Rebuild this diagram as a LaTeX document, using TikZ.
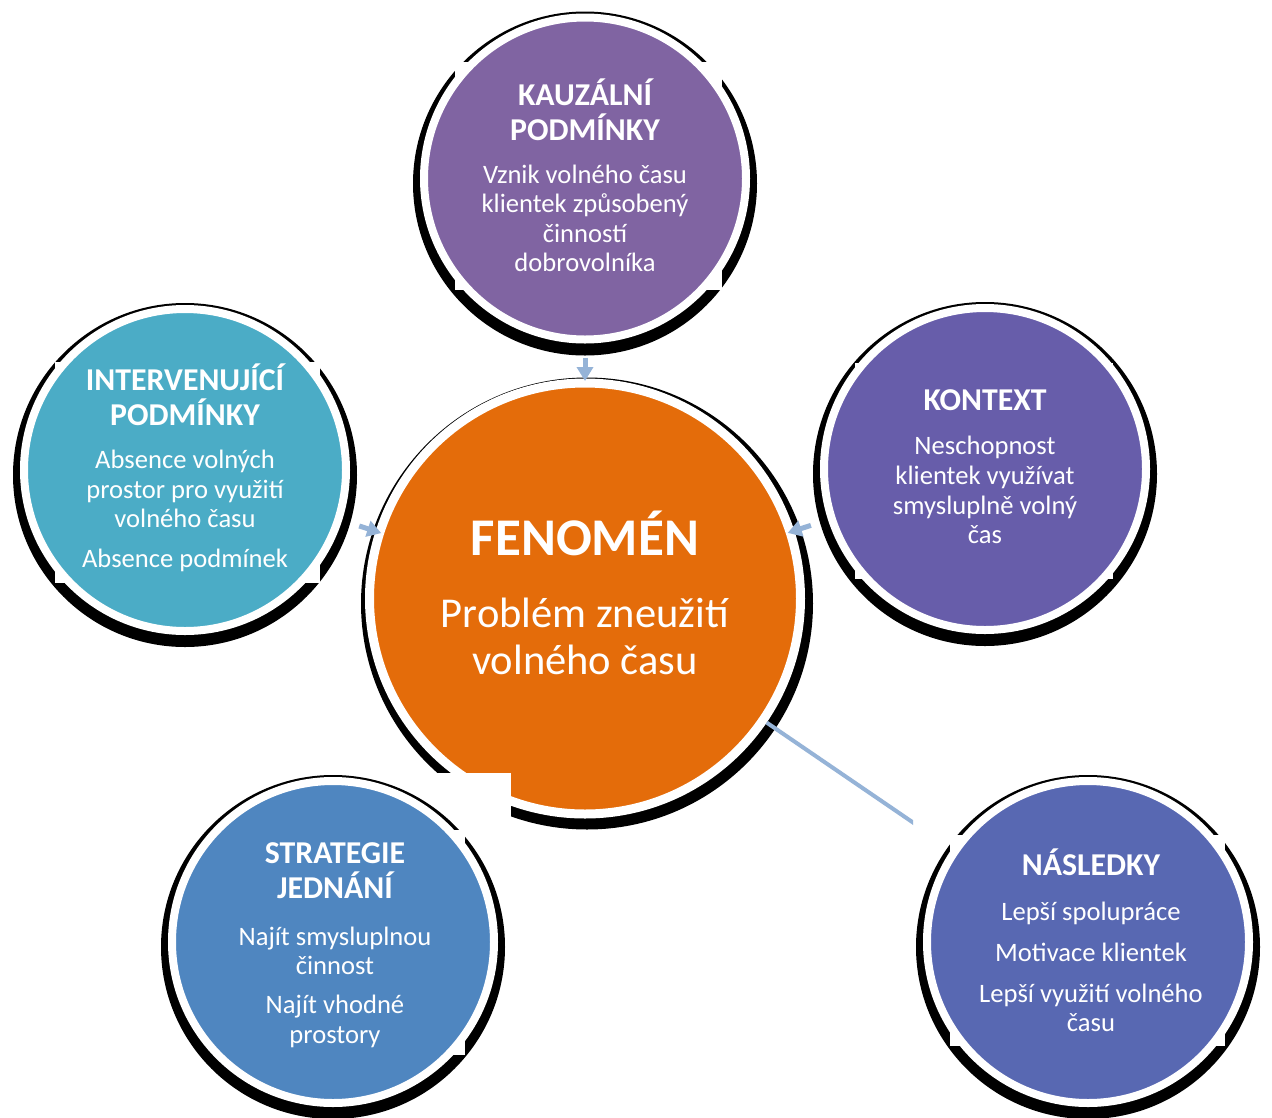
\documentclass[tikz,border=0pt]{standalone}
\usepackage{fontspec}
\setmainfont{Carlito}
\usetikzlibrary{arrows.meta}
\definecolor{cKauz}{HTML}{8064A2}
\definecolor{cKont}{HTML}{675DAA}
\definecolor{cNasl}{HTML}{5868B2}
\definecolor{cStra}{HTML}{4F86C0}
\definecolor{cInte}{HTML}{4BACC6}
\definecolor{cFen}{HTML}{E46C0A}
\definecolor{arrowc}{HTML}{95B3D7}
\tikzset{
  bub/.style={circle, draw=white, line width=8pt, minimum size=322pt, inner sep=0pt},
  bigbub/.style={circle, draw=white, line width=9pt, minimum size=431pt, inner sep=0pt},
  ttl/.style={text=white, font=\bfseries\fontsize{31.8pt}{34pt}\selectfont, anchor=base, inner sep=0pt},
  bdy/.style={text=white, font=\fontsize{26.6pt}{29pt}\selectfont, anchor=base, inner sep=0pt},
  fttl/.style={text=white, font=\bfseries\fontsize{53pt}{60pt}\selectfont, anchor=base, inner sep=0pt},
  fbdy/.style={text=white, font=\fontsize{42.5pt}{48pt}\selectfont, anchor=base, inner sep=0pt},
  arr/.style={draw=arrowc, line width=5pt, -{Triangle[width=16pt,length=14pt]}},
  lin/.style={draw=arrowc, line width=4pt},
}
\begin{document}
\begin{tikzpicture}[x=1pt,y=-1pt]
\useasboundingbox (0,0) rectangle (1272,1117);
\fill[white] (0,0) rectangle (1272,1117);

% KAUZALNI
\fill[black] (585,183.5) circle[radius=172pt];
\fill[white] (455,62) rectangle (722,290);
\node[bub, fill=cKauz] (kauz) at (585,178.5) {};
\node[ttl] (kauzT1) at (585,105) {KAUZÁLNÍ};
\node[ttl] (kauzT2) at (585,140) {PODMÍNKY};
\node[bdy] (kauzB1) at (585,183) {Vznik volného času};
\node[bdy] (kauzB2) at (585,212) {klientek způsobený};
\node[bdy] (kauzB3) at (585,242) {činností};
\node[bdy] (kauzB4) at (585,271) {dobrovolníka};

% INTERVENUJICI
\fill[black] (185,475) circle[radius=172pt];
\fill[white] (55,362) rectangle (320,583);
\node[bub, fill=cInte] (inte) at (185,470) {};
\node[ttl] (inteT1) at (185,390) {INTERVENUJÍCÍ};
\node[ttl] (inteT2) at (185,425) {PODMÍNKY};
\node[bdy] (inteB1) at (185,468) {Absence volných};
\node[bdy] (inteB2) at (185,498) {prostor pro využití};
\node[bdy] (inteB3) at (185,527) {volného času};
\node[bdy] (inteB4) at (185,567) {Absence podmínek};

% KONTEXT
\fill[black] (985,474) circle[radius=172pt];
\fill[white] (855,363) rectangle (1113,579);
\node[bub, fill=cKont] (kont) at (985,469) {};
\node[ttl] (kontT1) at (985,410) {KONTEXT};
\node[bdy] (kontB1) at (985,454) {Neschopnost};
\node[bdy] (kontB2) at (985,484) {klientek využívat};
\node[bdy] (kontB3) at (985,514) {smysluplně volný};
\node[bdy] (kontB4) at (985,543) {čas};

% FENOMEN
\fill[black] (587,603.5) circle[radius=226pt];
\node[bigbub, fill=cFen] (fen) at (585,598.5) {};
\node[fttl] (fenT) at (585,555) {FENOMÉN};
\node[fbdy] (fenB1) at (585,627) {Problém zneužití};
\node[fbdy] (fenB2) at (585,674) {volného času};
\fill[white] (330,773) rectangle (511,840);

% STRATEGIE
\fill[black] (333,947) circle[radius=172pt];
\fill[white] (213,830) rectangle (465,1055);
\node[bub, fill=cStra] (stra) at (333,942) {};
\node[ttl] (straT1) at (335,863) {STRATEGIE};
\node[ttl] (straT2) at (335,898) {JEDNÁNÍ};
\node[bdy] (straB1) at (335,945) {Najít smysluplnou};
\node[bdy] (straB2) at (335,974) {činnost};
\node[bdy] (straB3) at (335,1013) {Najít vhodné};
\node[bdy] (straB4) at (335,1043) {prostory};

% NASLEDKY
\fill[black] (1088,947) circle[radius=172pt];
\fill[white] (950,835) rectangle (1225,1046);
\node[bub, fill=cNasl] (nasl) at (1088,942) {};
\node[ttl] (naslT1) at (1091,875) {NÁSLEDKY};
\node[bdy] (naslB1) at (1091,920) {Lepší spolupráce};
\node[bdy] (naslB2) at (1091,961) {Motivace klientek};
\node[bdy] (naslB3) at (1091,1002) {Lepší využití volného};
\node[bdy] (naslB4) at (1091,1031) {času};

% connectors
\draw[arr, shorten <=14pt, shorten >=-2.5pt] (kauz) -- (fen);
\draw[arr, shorten <=18pt, shorten >=-6pt] (inte) -- (fen);
\draw[arr, shorten <=18pt, shorten >=-7pt] (kont) -- (fen);
\begin{scope}
\clip (0,0) rectangle (913,1117);
\draw[lin] (fen) -- (nasl);
\end{scope}
\end{tikzpicture}
\end{document}
